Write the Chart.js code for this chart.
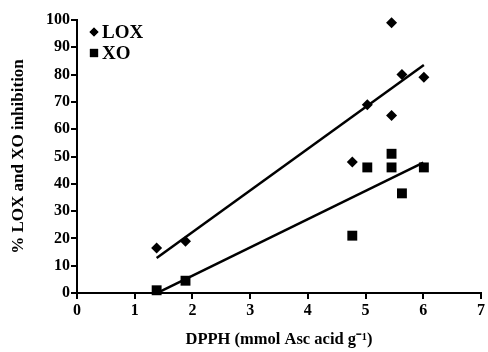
<!DOCTYPE html>
<html>
<head>
<meta charset="utf-8">
<script src="https://cdn.jsdelivr.net/npm/chart.js@4.4.0/dist/chart.umd.min.js"></script>
<style>
  html, body { margin: 0; padding: 0; background: #fff; }
  #wrap { width: 488px; height: 352px; }
</style>
</head>
<body>
<div id="wrap"><canvas id="chartDpph"></canvas></div>
<script>
// valeurs
var dpphLox = [1.38, 1.88, 4.77, 5.03, 5.45, 5.45, 5.63, 6.01];
var inhibLox = [16.5, 19, 48, 69, 99, 65, 80, 79];
var dpphXo = [1.38, 1.88, 4.77, 5.03, 5.45, 5.45, 5.63, 6.01];
var inhibXo = [1, 4.5, 21, 46, 51, 46, 36.5, 46];
// droites de régression (extrémités)
var fitLoxX = [1.38, 6.01];
var fitLoxY = [12.8, 83.5];
var fitXoX = [1.42, 6.0];
var fitXoY = [0.3, 47.8];

var xTicks = [0, 1, 2, 3, 4, 5, 6, 7];
var yTicks = [0, 10, 20, 30, 40, 50, 60, 70, 80, 90, 100];

function toPoints(xs, ys) {
    var pts = [];
    for (var i = 0; i < xs.length; i++) {
        pts.push({ x: xs[i], y: ys[i] });
    }
    return pts;
}

var police = 'Liberation Serif';

// légende dessinée dans le coin haut gauche
var legendeInterne = {
    id: 'legendeInterne',
    afterDraw: function (chart) {
        var ctx = chart.ctx;
        var area = chart.chartArea;
        var items = chart.data.datasets.filter(function (d) { return d.legendRadius; });
        ctx.save();
        ctx.font = 'bold 19px "' + police + '"';
        ctx.textBaseline = 'middle';
        ctx.fillStyle = '#000';
        for (var i = 0; i < items.length; i++) {
            var yy = area.top + 12 + i * 21;
            Chart.helpers.drawPoint(ctx, {
                pointStyle: items[i].pointStyle,
                radius: items[i].legendRadius,
                borderWidth: 0
            }, area.left + 17, yy);
            ctx.fill();
            ctx.fillText(items[i].label, area.left + 25, yy + 1);
        }
        ctx.restore();
    }
};

var ctxDpph = document.getElementById('chartDpph').getContext('2d');

new Chart(ctxDpph, {
    type: 'scatter',
    data: {
        datasets: [
            {
                label: 'LOX',
                data: toPoints(dpphLox, inhibLox),
                pointStyle: 'rectRot',
                pointRadius: 5.5,
                legendRadius: 4.5,
                backgroundColor: '#000',
                borderColor: '#000',
                borderWidth: 0,
                clip: false
            },
            {
                label: 'XO',
                data: toPoints(dpphXo, inhibXo),
                pointStyle: 'rect',
                pointRadius: 7,
                legendRadius: 5.8,
                backgroundColor: '#000',
                borderColor: '#000',
                borderWidth: 0,
                clip: false
            },
            {
                label: 'LOX fit',
                data: toPoints(fitLoxX, fitLoxY),
                showLine: true,
                pointRadius: 0,
                borderColor: '#000',
                borderWidth: 2.5,
                clip: false
            },
            {
                label: 'XO fit',
                data: toPoints(fitXoX, fitXoY),
                showLine: true,
                pointRadius: 0,
                borderColor: '#000',
                borderWidth: 2.5,
                clip: false
            }
        ]
    },
    options: {
        responsive: true,
        maintainAspectRatio: false,
        animation: false,
        layout: {
            padding: { top: 20, right: 6, left: 0, bottom: 0 }
        },
        plugins: {
            legend: { display: false },
            tooltip: { enabled: false }
        },
        scales: {
            x: {
                type: 'linear',
                min: 0,
                max: 7,
                afterFit: function (s) { s.height = 59; },
                afterBuildTicks: function (s) {
                    s.ticks = xTicks.map(function (v) { return { value: v }; });
                },
                border: { color: '#000', width: 2 },
                grid: { drawOnChartArea: false, color: '#000', lineWidth: 2, tickLength: 6 },
                ticks: {
                    color: '#000',
                    padding: 2,
                    maxRotation: 0,
                    font: { family: police, size: 16, weight: 'bold' }
                },
                title: {
                    display: true,
                    text: 'DPPH (mmol Asc acid g\u207B\u00B9)',
                    color: '#000',
                    padding: { top: 4, bottom: 2 },
                    font: { family: police, size: 16.5, weight: 'bold' }
                }
            },
            y: {
                type: 'linear',
                min: 0,
                max: 100,
                afterFit: function (s) { s.width = 77; },
                afterBuildTicks: function (s) {
                    s.ticks = yTicks.map(function (v) { return { value: v }; });
                },
                border: { color: '#000', width: 2 },
                grid: { drawOnChartArea: false, color: '#000', lineWidth: 2, tickLength: 6 },
                ticks: {
                    color: '#000',
                    padding: 1,
                    font: { family: police, size: 16, weight: 'bold' }
                },
                title: {
                    display: true,
                    text: '% LOX and XO inhibition',
                    color: '#000',
                    padding: { top: 8, bottom: 0 },
                    font: { family: police, size: 17, weight: 'bold' }
                }
            }
        }
    },
    plugins: [legendeInterne]
});
</script>
</body>
</html>
